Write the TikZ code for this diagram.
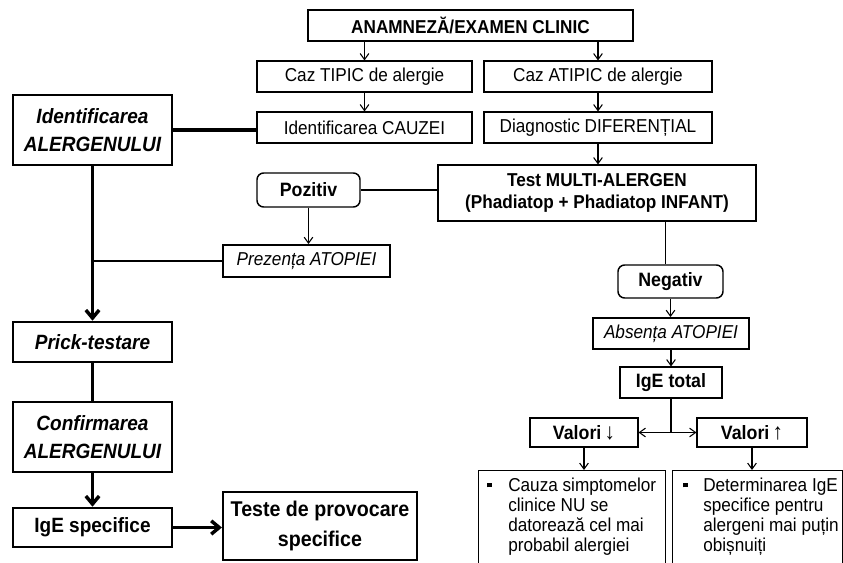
\documentclass[tikz,border=0pt]{standalone}
\usepackage{fontspec}
\setmainfont[FakeStretch=0.92]{Liberation Sans}
\usetikzlibrary{arrows.meta,positioning,calc}

\newcommand{\blt}{\rule[3pt]{3.5pt}{3.5pt}}
\newcommand{\bigarr}[1]{{\fontsize{17}{17}\selectfont #1}}

\tikzset{
  wh/.style 2 args={minimum width=#1*0.75pt,minimum height=#2*0.75pt},
  plainbox/.style={draw,line width=0.8pt,inner sep=0pt,align=center,
    font=\fontsize{14}{16}\selectfont},
  boldbox/.style={plainbox,font=\fontsize{14.5}{17}\selectfont\bfseries},
  roundbox/.style={boldbox,rounded corners=5pt,line width=1.1pt},
  atopbox/.style={plainbox,line width=1.4pt,font=\fontsize{14}{16}\selectfont\itshape},
  leftbox/.style={draw,line width=1.9pt,inner sep=0pt,align=center,
    font=\fontsize{15.5}{20.5}\selectfont\bfseries\itshape},
  bultext/.style={inner sep=0pt,anchor=north west,font=\fontsize{14}{15}\selectfont},
  thinarr/.style={line width=0.8pt,-{Straight Barb[length=4.5pt,width=6.5pt]}},
  thickln/.style={line width=2.6pt},
  thickarr/.style={thickln,-{Straight Barb[length=6pt,width=10pt]}},
}

\begin{document}
\begin{tikzpicture}[x=0.75pt,y=-0.75pt]
  \useasboundingbox (0,0) rectangle (843,563);
  \clip (0,0) rectangle (843,563);

  % upper part
  \node[plainbox,wh={325}{31},line width=1.2pt,font=\fontsize{14}{16}\selectfont\bfseries]
    (anam) at (470.5,25.5) {ANAMNEZĂ/EXAMEN CLINIC};
  \node[plainbox,wh={215}{31}] (tipic) at (364.5,76.5) {Caz TIPIC de alergie};
  \node[plainbox,wh={228}{31}] (atipic) at (598,76.5) {Caz ATIPIC de alergie};
  \node[plainbox,wh={215}{31}] (cauzei) at (364.5,127.5) {Identificarea CAUZEI};
  \node[plainbox,wh={228}{31}] (difer) at (598,127.5) {Diagnostic DIFERENȚIAL};

  \node[boldbox,wh={318}{56},font=\fontsize{14}{17}\selectfont\bfseries]
    (test) at (597,193) {Test MULTI-ALERGEN\\(Phadiatop + Phadiatop INFANT)};
  \node[roundbox,wh={103}{34}] (pozitiv) at (308.5,190) {Pozitiv};
  \node[atopbox,wh={167}{32}] (prezenta) at (306.5,261) {Prezența ATOPIEI};

  \draw[thinarr] (tipic.north |- anam.south) -- (tipic.north);
  \draw[thinarr] (atipic.north |- anam.south) -- (atipic.north);
  \draw[thinarr] (tipic) -- (cauzei);
  \draw[thinarr] (atipic) -- (difer);
  \draw[thinarr] (difer.south) -- (difer.south |- test.north);
  \draw[line width=1pt] (pozitiv.east) -- (pozitiv.east -| test.west);
  \draw[thinarr] (pozitiv.south) -- (pozitiv.south |- prezenta.north);

  % right branch (negativ)
  \node[roundbox,wh={105}{33}] (negativ) at (670.5,281.5) {Negativ};
  \node[atopbox,wh={156}{31}] (absenta) at (671,333.5) {Absența ATOPIEI};
  \node[boldbox,wh={102}{31}] (igetot) at (671,382.5) {IgE total};
  \node[boldbox,wh={108}{29}] (vjos) at (584,432.5) {Valori\,\bigarr{↓}};
  \node[boldbox,wh={110}{29}] (vsus) at (752,432.5) {Valori\,\bigarr{↑}};
  \node[draw,line width=1pt,wh={187}{130},anchor=north west] (bul1) at (478,470) {};
  \node[draw,line width=1pt,wh={170}{130},anchor=north west] (bul2) at (672,470) {};
  \node[bultext] (bul1t) at (487,477) {\begin{tabular}{@{}p{15.75pt}@{}l@{}}
      \blt & Cauza simptomelor\\ & clinice NU se\\ & datorează cel mai\\ & probabil alergiei
    \end{tabular}};
  \node[bultext] (bul2t) at (683,477) {\begin{tabular}{@{}p{15pt}@{}l@{}}
      \blt & Determinarea IgE\\ & specifice pentru\\ & alergeni mai puțin\\ & obișnuiți
    \end{tabular}};

  \draw[line width=1pt] ([xshift=-4pt]negativ.north) -- ([xshift=-4pt]negativ.north |- test.south);
  \draw[thinarr] (negativ.south) -- (negativ.south |- absenta.north);
  \draw[thinarr] (absenta.south) -- (absenta.south |- igetot.north);
  \draw[line width=1pt] (igetot.south) -- (igetot.south |- vjos.east) coordinate (split);
  \draw[thinarr] (split) -- (vjos.east);
  \draw[thinarr] (split) -- (vsus.west);
  \draw[thinarr] (vjos.south) -- (vjos.south |- bul1.north);
  \draw[thinarr] (vsus.south) -- (vsus.south |- bul2.north);

  % left column
  \node[leftbox,wh={159}{70}] (alerg) at (92.5,130) {Identificarea\\ALERGENULUI};
  \node[leftbox,wh={159}{40}] (prick) at (92.5,342) {Prick-testare};
  \node[leftbox,wh={159}{70}] (confirm) at (92.5,437) {Confirmarea\\ALERGENULUI};
  \node[leftbox,wh={159}{39},font=\fontsize{15.5}{17}\selectfont\bfseries]
    (igespec) at (92.5,527.5) {IgE specifice};
  \node[leftbox,wh={194}{68},line width=1.6pt,font=\fontsize{16}{22.5}\selectfont\bfseries]
    (teste) at (320,526) {Teste de provocare\\specifice};

  \draw[thickln] (alerg.east) -- (alerg.east -| cauzei.west);
  \draw[thickarr] (alerg) -- (prick);
  \draw[line width=2pt] (prezenta.west) -- (prezenta.west -| alerg.south);
  \draw[thickln] (prick) -- (confirm);
  \draw[thickarr] (confirm) -- (igespec);
  \draw[thickarr] (igespec.east) -- (igespec.east -| teste.west);
\end{tikzpicture}
\end{document}
